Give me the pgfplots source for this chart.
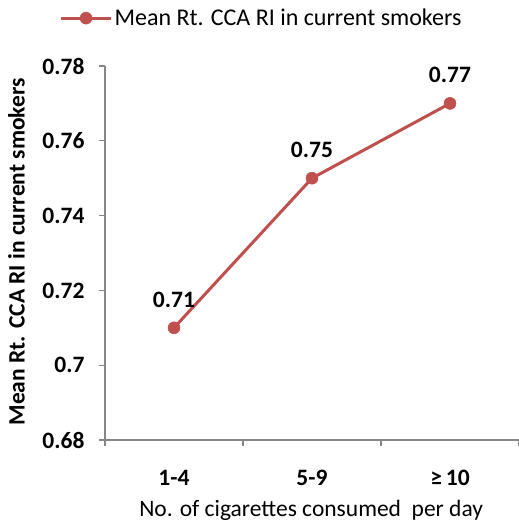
\documentclass[border=0pt]{standalone}
\usepackage{pgfplots}
\pgfplotsset{compat=1.18}
\usepackage{fontspec}
\setmainfont{Carlito}
\definecolor{linered}{HTML}{C0504D}
\definecolor{axgray}{HTML}{868686}
\begin{document}
\begin{tikzpicture}
\useasboundingbox (0pt,0pt) rectangle (519pt,525pt);
\begin{axis}[
  at={(105pt,85pt)}, anchor=south west,
  width=414pt, height=374pt, scale only axis,
  xmin=-0.5, xmax=2.5, ymin=0.68, ymax=0.78,
  axis x line*=bottom, axis y line*=left,
  axis line style={axgray, line width=1.1pt},
  every tick/.style={axgray, line width=1.1pt},
  tick align=outside,
  major tick length=6pt, minor tick length=6pt,
  xtick={0,1,2}, xticklabels={1-4,5-9,≥\,10},
  major x tick style={draw=none},
  minor xtick={-0.5,0.5,1.5,2.5},
  ytick={0.68,0.70,0.72,0.74,0.76,0.78},
  /pgf/number format/assume math mode=true,
  ticklabel style={font=\bfseries\fontsize{23.5}{23.5}\selectfont, text=black},
  yticklabel style={xshift=-11pt},
  xticklabel style={yshift=-21pt},
  xlabel={No. of cigarettes consumed\ \ per day},
  ylabel={\bfseries Mean Rt. CCA RI in current smokers},
  every axis x label/.style={at={(axis description cs:0.498,-0.187)}, anchor=center, font=\fontsize{23.5}{23.5}\selectfont},
  every axis y label/.style={at={(axis description cs:-0.214,0.503)}, anchor=center, rotate=90, font=\fontsize{23.5}{23.5}\selectfont},
  nodes near coords,
  nodes near coords style={font=\bfseries\fontsize{23.5}{23.5}\selectfont, text=black, anchor=south, yshift=17pt,
    /pgf/number format/.cd, fixed, fixed zerofill, precision=2, assume math mode=true},
  legend style={draw=none, at={(axis description cs:0.378,1.128)}, anchor=center, font=\fontsize{24}{24}\selectfont},
  legend image code/.code={\draw[mark repeat=2,mark phase=2,#1] plot coordinates {(0pt,0pt) (25pt,0pt) (50pt,0pt)};},
  clip=false,
]
\addplot[color=linered, line width=3pt, mark=*, mark size=6pt, mark options={fill=linered, line width=0.5pt}]
  coordinates {(0,0.71) (1,0.75) (2,0.77)};
\addlegendentry{Mean Rt. CCA RI in current smokers}
\end{axis}
\end{tikzpicture}
\end{document}
